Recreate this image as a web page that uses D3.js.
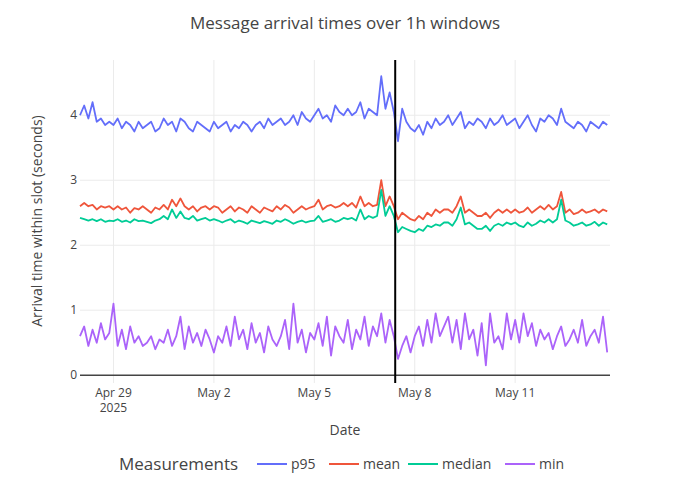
<!DOCTYPE html>
<html><head><meta charset="utf-8">
<script src="https://cdn.jsdelivr.net/npm/d3@7"></script>
<style>body{margin:0;background:#fff;font-family:"Open Sans",sans-serif}</style>
</head><body><svg id="c" width="690" height="492"></svg>
<script>
const startTime = "2025-04-28T00:00:00";
const stepHours = 3;
const markerTime = "2025-05-07T10:00:00";
const seriesNames = ["p95","mean","median","min"];
const seriesColors = ["#636efa","#EF553B","#00cc96","#ab63fa"];
const xTickDates = ["2025-04-29","2025-05-02","2025-05-05","2025-05-08","2025-05-11"];
const xTickLabels = [["Apr 29","2025"],["May 2"],["May 5"],["May 8"],["May 11"]];
const yTicks = [0,1,2,3,4];
const p95 = [4.0,4.15,3.95,4.2,3.9,3.95,3.85,3.9,
3.85,3.95,3.8,3.9,3.85,3.75,3.9,3.8,
3.85,3.9,3.75,3.8,3.95,3.85,3.9,3.75,
3.95,3.9,3.8,3.75,3.9,3.85,3.8,3.75,
3.9,3.8,3.85,3.9,3.75,3.85,3.8,3.9,
3.85,3.75,3.85,3.9,3.8,3.95,3.85,3.9,
3.95,3.85,3.9,4.0,3.85,4.05,3.95,3.9,
4.0,4.1,3.95,4.0,3.9,4.15,4.05,4.0,
4.1,4.0,4.05,4.2,3.95,4.1,4.05,4.0,
4.6,4.1,4.35,4.05,3.6,4.1,3.9,3.8,
3.75,3.85,3.7,3.9,3.8,3.95,3.85,3.9,
4.0,3.85,3.95,4.05,3.8,3.9,3.85,3.95,
3.9,3.8,3.95,3.85,3.9,4.0,3.85,3.9,
3.95,3.8,3.9,4.0,3.85,3.75,3.95,3.9,
4.0,3.95,3.85,4.1,3.9,3.85,3.8,3.9,
3.85,3.75,3.9,3.85,3.8,3.9,3.85];
const mean = [2.6,2.65,2.6,2.62,2.55,2.6,2.58,2.6,
2.55,2.6,2.55,2.58,2.5,2.57,2.55,2.6,
2.55,2.5,2.58,2.55,2.62,2.55,2.7,2.6,
2.72,2.6,2.55,2.6,2.52,2.58,2.6,2.55,
2.6,2.58,2.5,2.55,2.6,2.52,2.58,2.55,
2.5,2.6,2.55,2.5,2.58,2.55,2.52,2.6,
2.55,2.62,2.58,2.5,2.55,2.6,2.55,2.58,
2.6,2.7,2.55,2.6,2.62,2.58,2.6,2.65,
2.6,2.65,2.58,2.75,2.6,2.65,2.6,2.62,
3.0,2.6,2.75,2.6,2.4,2.5,2.45,2.4,
2.38,2.45,2.4,2.5,2.45,2.55,2.5,2.55,
2.55,2.5,2.6,2.75,2.5,2.55,2.5,2.45,
2.45,2.5,2.42,2.5,2.55,2.5,2.55,2.5,
2.55,2.5,2.52,2.58,2.5,2.55,2.6,2.55,
2.62,2.55,2.6,2.82,2.5,2.55,2.48,2.5,
2.55,2.5,2.52,2.55,2.5,2.55,2.52];
const median = [2.42,2.4,2.38,2.4,2.37,2.4,2.36,2.38,
2.37,2.4,2.36,2.38,2.35,2.4,2.37,2.38,
2.36,2.34,2.38,2.4,2.45,2.4,2.55,2.42,
2.52,2.42,2.4,2.45,2.38,2.4,2.42,2.38,
2.4,2.38,2.35,2.38,2.4,2.35,2.38,2.36,
2.33,2.38,2.36,2.34,2.37,2.35,2.33,2.38,
2.36,2.4,2.37,2.33,2.36,2.38,2.35,2.37,
2.38,2.45,2.36,2.38,2.4,2.36,2.38,2.42,
2.4,2.42,2.38,2.55,2.4,2.45,2.42,2.45,
2.85,2.45,2.6,2.45,2.2,2.28,2.25,2.22,
2.2,2.25,2.22,2.3,2.28,2.32,2.3,2.35,
2.35,2.3,2.4,2.58,2.32,2.35,2.3,2.25,
2.25,2.3,2.22,2.3,2.33,2.3,2.35,2.32,
2.35,2.3,2.28,2.35,2.3,2.33,2.38,2.35,
2.4,2.35,2.4,2.7,2.38,2.35,2.3,2.32,
2.35,2.3,2.32,2.36,2.3,2.35,2.32];
const minv = [0.6,0.75,0.45,0.7,0.5,0.8,0.55,0.65,
1.1,0.45,0.7,0.4,0.75,0.5,0.6,0.45,
0.5,0.6,0.4,0.55,0.5,0.7,0.45,0.6,
0.9,0.4,0.75,0.5,0.65,0.45,0.7,0.55,
0.35,0.6,0.5,0.75,0.45,0.9,0.55,0.7,
0.4,0.8,0.5,0.65,0.35,0.75,0.55,0.45,
0.6,0.85,0.4,1.1,0.5,0.7,0.35,0.65,
0.55,0.8,0.45,0.9,0.3,0.75,0.6,0.5,
0.85,0.4,0.7,0.55,0.9,0.45,0.75,0.6,
0.95,0.5,0.85,0.6,0.25,0.45,0.6,0.35,
0.6,0.75,0.45,0.85,0.5,0.95,0.6,0.75,
0.9,0.5,0.85,0.4,0.95,0.55,0.7,0.3,
0.8,0.15,0.95,0.5,0.6,0.4,0.95,0.55,
0.85,0.5,0.95,0.6,0.8,0.45,0.7,0.55,
0.65,0.4,0.6,0.75,0.45,0.55,0.7,0.5,
0.85,0.45,0.6,0.7,0.5,0.9,0.35];
const seriesValues = [p95, mean, median, minv];

const svg = d3.select("#c");
const L=80,R=610,T=60,B=383;
const t0 = new Date(startTime);
const timeAt = i => new Date(t0.getTime()+i*stepHours*3600e3);
const x = d3.scaleTime().domain([t0, new Date("2025-05-13T20:00:00")]).range([L,R]);
const y = d3.scaleLinear().domain([-0.12,4.85]).range([B,T]);

const g = svg.append("g");
xTickDates.forEach(d=>{
  g.append("line").attr("x1",x(new Date(d+"T00:00:00"))).attr("x2",x(new Date(d+"T00:00:00")))
   .attr("y1",T).attr("y2",B).attr("stroke","#ebebeb");
});
yTicks.forEach(v=>{
  g.append("line").attr("x1",L).attr("x2",R).attr("y1",y(v)).attr("y2",y(v))
   .attr("stroke", v===0?"#444":"#ebebeb").attr("stroke-width", v===0?1.5:1);
  g.append("text").attr("x",L-3).attr("y",y(v)+4).attr("text-anchor","end")
   .attr("font-size",12).attr("fill","#444").text(v);
});
xTickDates.forEach((d,i)=>{
  const xp = x(new Date(d+"T00:00:00"));
  xTickLabels[i].forEach((s,j)=>g.append("text").attr("x",xp).attr("y",B+14+j*15)
    .attr("text-anchor","middle").attr("font-size",12).attr("fill","#444").text(s));
});
const line = d3.line().x((d,i)=>x(timeAt(i))).y(d=>y(d));
seriesValues.forEach((vals,k)=>{
  g.append("path").datum(vals).attr("d",line).attr("fill","none")
   .attr("stroke",seriesColors[k]).attr("stroke-width",1.8).attr("stroke-linejoin","round");
});
const mx = x(new Date(markerTime));
g.append("line").attr("x1",mx).attr("x2",mx).attr("y1",T).attr("y2",B).attr("stroke","#000").attr("stroke-width",2);

svg.append("text").attr("x",345).attr("y",29).attr("text-anchor","middle").attr("font-size",17).attr("fill","#444").text("Message arrival times over 1h windows");
svg.append("text").attr("x",345).attr("y",435).attr("text-anchor","middle").attr("font-size",14).attr("fill","#444").text("Date");
svg.append("text").attr("transform","translate(42,221) rotate(-90)").attr("text-anchor","middle").attr("font-size",14).attr("fill","#444").text("Arrival time within slot (seconds)");

const lg = svg.append("g");
lg.append("text").attr("x",119).attr("y",470).attr("font-size",17).attr("fill","#444").text("Measurements");
const lx = [257,329,408,505];
seriesNames.forEach((n,k)=>{
  lg.append("line").attr("x1",lx[k]).attr("x2",lx[k]+30).attr("y1",464).attr("y2",464).attr("stroke",seriesColors[k]).attr("stroke-width",2);
  lg.append("text").attr("x",lx[k]+34).attr("y",469).attr("font-size",14).attr("fill","#444").text(n);
});
</script></body></html>
